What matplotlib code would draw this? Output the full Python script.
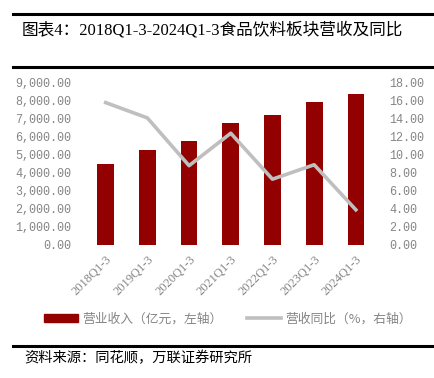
import numpy as np
import matplotlib
matplotlib.use("Agg")
import matplotlib.pyplot as plt
from matplotlib.lines import Line2D
from matplotlib.patches import Patch

plt.rcParams['font.family'] = ['Liberation Serif', 'Noto Sans CJK SC']

# 数据
periods = ['2018Q1-3', '2019Q1-3', '2020Q1-3', '2021Q1-3', '2022Q1-3', '2023Q1-3', '2024Q1-3']
revenue = [4480, 5260, 5780, 6760, 7220, 7930, 8370]   # 亿元
yoy = [15.8, 14.1, 8.8, 12.4, 7.3, 8.9, 3.9]            # %

bar_color = '#930000'
line_color = '#bfbfbf'
tick_color = '#858585'

fig = plt.figure(figsize=(4.35, 3.78), dpi=100)

# 标题与横线
for y in (1 - 14 / 378, 1 - 67 / 378, 1 - 346 / 378):
    fig.add_artist(Line2D([0.03, 1.0], [y, y], color='black', lw=2.2, transform=fig.transFigure))
fig.text(0.05, 1 - 30 / 378, '图表4：2018Q1-3-2024Q1-3食品饮料板块营收及同比',
         fontsize=12, va='center', ha='left')
fig.text(0.055, 1 - 358 / 378, '资料来源：同花顺，万联证券研究所',
         fontsize=10.3, va='center', ha='left', family=['Noto Sans CJK SC'], style='italic')

ax = fig.add_axes([0.195, 0.352, 0.671, 0.429])
x = np.arange(len(periods))
ax.bar(x, revenue, width=0.4, color=bar_color)
ax.set_ylim(0, 9000)
ax.set_yticks(np.arange(0, 9001, 1000))
ax.set_yticklabels([f'{v:,.2f}' for v in np.arange(0, 9001, 1000)],
                   family='Liberation Mono', fontsize=8.5, color=tick_color)
ax.set_xlim(-0.5, len(periods) - 0.5)
ax.set_xticks(x)
ax.set_xticklabels(periods, rotation=45, ha='right', va='top', rotation_mode='anchor',
                   fontsize=9, color=tick_color)
ax.tick_params(length=0, pad=10)
ax.tick_params(axis='x', pad=6)

ax2 = ax.twinx()
ax2.plot(x, yoy, color=line_color, lw=2.6)
ax2.set_ylim(0, 18)
ax2.set_yticks(np.arange(0, 18.1, 2))
ax2.set_yticklabels([f'{v:.2f}' for v in np.arange(0, 18.1, 2)],
                    family='Liberation Mono', fontsize=8.5, color=tick_color)
ax2.tick_params(length=0, pad=9)

for a in (ax, ax2):
    for s in a.spines.values():
        s.set_visible(False)

handles = [Patch(color=bar_color), Line2D([0], [0], color=line_color, lw=2.6)]
labels = ['营业收入（亿元，左轴）', '营收同比（%，右轴）']
fig.legend(handles, labels, loc='center', bbox_to_anchor=(0.523, 1 - 319 / 378),
           ncol=2, frameon=False, handlelength=2.7, handleheight=0.6, columnspacing=1.9,
           handletextpad=0.3, prop={'family': 'Noto Sans CJK SC', 'size': 9.2},
           labelcolor=tick_color)

fig.savefig('out.png', dpi=100)
